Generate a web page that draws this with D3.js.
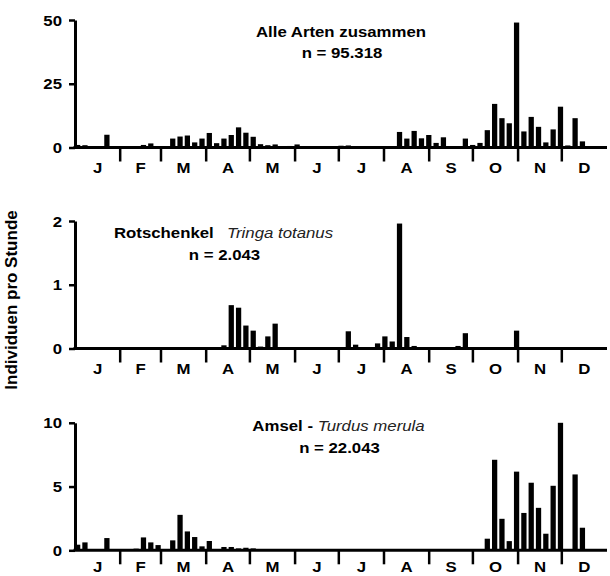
<!DOCTYPE html>
<html><head><meta charset="utf-8">
<script src="https://cdn.jsdelivr.net/npm/d3@7"></script>
<style>body{margin:0;background:#fff}svg{display:block}</style>
</head><body>
<script>
// ---- data ----
const pentads = d3.range(73);
const monthLabels = ["J","F","M","A","M","J","J","A","S","O","N","D"];
const monthDays = [31,28,31,30,31,30,31,31,30,31,30,31];

const allSpecies = [1.0,0.9,0,0,5.0,0,0,0,0.5,1.0, 1.6,0.3,0.3,3.5,4.3,4.7,2.0,3.5,5.7,1.7,
  3.5,4.9,7.9,5.8,4.2,1.3,0.9,1.2,0,0.6, 1.2,0,0,0,0,0,0.7,0.8,0,0,
  0.5,0.5,0.5,0,6.1,3.5,6.5,3.6,4.9,1.8, 4.0,0.5,0.5,3.5,1.0,1.8,6.8,17.1,11.5,9.5,
  49,6.3,12.0,8.1,2.0,7.1,16.0,0.8,11.5,2.4, 0,0,0];
const redshank = [0,0,0,0,0,0,0,0,0,0, 0,0,0,0,0,0,0,0,0,0,
  0.05,0.68,0.64,0.36,0.28,0.03,0.19,0.39,0,0, 0,0,0,0,0,0,0,0.27,0.06,0,
  0,0.08,0.19,0.11,1.96,0.18,0.04,0,0,0.02, 0.02,0,0.04,0.24,0,0,0,0,0,0,
  0.28,0,0,0,0,0,0,0,0,0, 0,0,0];
const blackbird = [0.44,0.62,0,0,0.96,0,0,0,0.13,1.01, 0.62,0.41,0,0.78,2.78,1.48,1.04,0.31,0.73,0,
  0.26,0.26,0.15,0.2,0.15,0,0,0,0,0, 0,0,0,0,0,0,0,0,0,0,
  0,0,0,0,0,0,0,0,0,0, 0,0,0,0,0,0,0.91,7.1,2.47,0.72,
  6.17,2.93,5.3,3.33,1.3,5.06,10.0,0.1,5.95,1.77, 0,0,0];

const yTicksAll = [0,25,50];
const yTicksRedshank = [0,1,2];
const yTicksBlackbird = [0,5,10];

const titlesBold = ["Alle Arten zusammen", "Rotschenkel", "Amsel - "];
const titlesItalic = ["", "Tringa totanus", "Turdus merula"];
const counts = ["n = 95.318", "n = 2.043", "n = 22.043"];
const yLabel = "Individuen pro Stunde";

// ---- layout ----
const W = 610, H = 576, SX = 1.2;
const x0 = 75, x1 = 607, ph = 127.5;
const panels = [
  {values: allSpecies, ticks: yTicksAll, top: 20, tx: 341, ty: 37, ny: 58, sep: 0, lab: 25},
  {values: redshank, ticks: yTicksRedshank, top: 221, tx: 223.5, ty: 238, ny: 260, sep: 11, lab: 25.5},
  {values: blackbird, ticks: yTicksBlackbird, top: 422.8, tx: 338.5, ty: 430.7, ny: 453.3, sep: 0, lab: 22}
];

const svg = d3.select("body").append("svg").attr("width", W).attr("height", H)
  .style("font-family", "'Liberation Sans', Arial, Helvetica, sans-serif");

const x = d3.scaleBand().domain(pentads).range([x0, x1]).paddingInner(0.28).paddingOuter(0);
const xDay = d3.scaleLinear().domain([0, d3.sum(monthDays)]).range([x0, x1]);
const cum = d3.cumsum(monthDays);
const monthStarts = [0, ...cum.slice(0, 11)];

function stretched(g, px, py, anchor) {
  return g.append("g").attr("transform", `translate(${px},${py}) scale(${SX},1)`)
    .append("text").attr("text-anchor", anchor || "middle");
}

panels.forEach((p, pi) => {
  const maxV = d3.max(p.ticks);
  const y = d3.scaleLinear().domain([0, maxV]).range([p.top + ph, p.top]);
  const g = svg.append("g");
  const y0 = y(0);

  // bars
  g.selectAll("rect").data(p.values.map((v, i) => ({i, v})).filter(d => d.v > 0))
    .join("rect")
    .attr("x", d => x(d.i)).attr("width", x.bandwidth())
    .attr("y", d => y(d.v)).attr("height", d => y0 - y(d.v))
    .attr("fill", "#000");

  // baseline
  g.append("line").attr("x1", x0 - 1.5).attr("x2", x1).attr("y1", y0).attr("y2", y0)
    .attr("stroke", "#000").attr("stroke-width", 3);

  // month ticks
  g.selectAll(".mt").data(cum.slice(0, 11)).join("line").attr("class", "mt")
    .attr("x1", d => xDay(d)).attr("x2", d => xDay(d))
    .attr("y1", y0).attr("y2", y0 + 14)
    .attr("stroke", "#000").attr("stroke-width", 2.5);

  // month labels
  monthLabels.forEach((m, mi) => {
    const cx = xDay((monthStarts[mi] + cum[mi]) / 2);
    stretched(g, cx, y0 + p.lab).text(m)
      .attr("font-size", 14).attr("font-weight", "bold").attr("fill", "#000");
  });

  // y axis
  const ax = g.append("g").attr("transform", `translate(${x0},0)`)
    .call(d3.axisLeft(y).tickValues(p.ticks).tickSize(6).tickSizeOuter(0).tickFormat(d3.format("d")));
  ax.select(".domain").attr("stroke-width", 3).attr("stroke", "#000");
  ax.selectAll(".tick line").attr("stroke-width", 2.5).attr("stroke", "#000");
  ax.selectAll(".tick text")
    .attr("x", -13 / SX).attr("dy", "0.36em")
    .attr("transform", `scale(${SX},1)`)
    .attr("font-size", 14).attr("font-weight", "bold")
    .attr("font-family", "'Liberation Sans', Arial, sans-serif").attr("fill", "#000");

  // titles
  const t = stretched(g, p.tx, p.ty).attr("font-size", 14).attr("fill", "#000");
  t.append("tspan").attr("font-weight", "bold").text(titlesBold[pi]);
  if (titlesItalic[pi]) {
    t.append("tspan").attr("dx", p.sep).attr("font-style", "italic").attr("fill", "#222")
      .text(titlesItalic[pi]);
  }
  stretched(g, p.tx + 1, p.ny).text(counts[pi])
    .attr("font-size", 14).attr("font-weight", "bold").attr("fill", "#000");
});

// y label
svg.append("g").attr("transform", `translate(17,300) rotate(-90)`)
  .append("text").attr("text-anchor", "middle")
  .attr("font-size", 17).attr("font-weight", "bold").attr("fill", "#000")
  .text(yLabel);
</script>
</body></html>
